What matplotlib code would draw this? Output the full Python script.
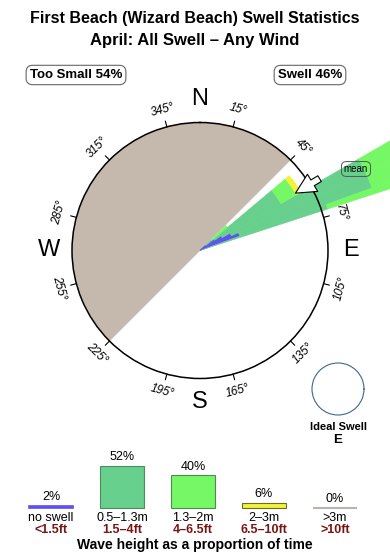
import matplotlib
matplotlib.use('Agg')
import matplotlib.pyplot as plt
import numpy as np

plt.rcParams['font.family'] = ['Liberation Sans', 'DejaVu Sans']

W, H = 390, 560

# swell rose: compass bins (degrees) and stacked lengths (1.0 = compass circle)
bin_start = [46, 50, 55, 60, 65, 70]
bin_end = [50, 55, 60, 65, 70, 72]
r_blue = [0.06, 0.14, 0.20, 0.27, 0.33, 0.0]
r_dkgreen = [0.06, 0.59, 0.53, 1.16, 1.10, 1.05]
r_ltgreen = [0.16, 0.14, 0.14, 0.80, 0.80, 1.00]
r_yellow = [0.0, 0.04, 0.04, 0.0, 0.0, 0.0]
mean_dir = 59

# legend bars
cats = ['no swell', '0.5\u20131.3m', '1.3\u20132m', '2\u20133m', '>3m']
feet = ['<1.5ft', '1.5\u20134ft', '4\u20136.5ft', '6.5\u201310ft', '>10ft']
pct = [2, 52, 40, 6, 0]

c_blue = '#5f4ff2'
c_dkg = '#66d08c'
c_ltg = '#76f766'
c_yel = '#f2f238'
c_gray = '#c4b9ac'
c_red = '#7a1414'

fig = plt.figure(figsize=(W/100, H/100), dpi=100)

def fx(x):
    return x / W

def fy(y):
    return 1 - y / H

fig.text(0.5, fy(18), 'First Beach (Wizard Beach) Swell Statistics', ha='center', va='center',
         fontsize=11.5, fontweight='bold')
fig.text(0.5, fy(40), 'April: All Swell \u2013 Any Wind', ha='center', va='center',
         fontsize=12, fontweight='bold')
box = dict(boxstyle='round,pad=0.28,rounding_size=0.5', fc='white', ec='#666666', lw=0.8)
fig.text(fx(76), fy(75), 'Too Small 54%', ha='center', va='center', fontsize=9.5,
         fontweight='bold', bbox=box)
fig.text(fx(310), fy(75), 'Swell 46%', ha='center', va='center', fontsize=9.5,
         fontweight='bold', bbox=box)

# compass rose
cx, cy, R = 200, 250.5, 128
ax = fig.add_axes([fx(cx - R), fy(cy + R), 2*R/W, 2*R/H], projection='polar')
ax.set_theta_zero_location('N')
ax.set_theta_direction(-1)
ax.set_ylim(0, 1)
ax.set_xticks([])
ax.set_yticks([])
ax.grid(False)
ax.spines['polar'].set_linewidth(1.1)
ax.spines['polar'].set_zorder(4)

# shadowed sector
ax.bar(np.deg2rad(315), 1, width=np.pi, color=c_gray, edgecolor=c_gray, lw=0.3, zorder=1)

th = np.deg2rad((np.array(bin_start) + np.array(bin_end)) / 2)
wd = np.deg2rad(np.array(bin_end) - np.array(bin_start))
bottom = np.zeros(len(th))
for vals, col in [(r_blue, c_blue), (r_dkgreen, c_dkg), (r_ltgreen, c_ltg), (r_yellow, c_yel)]:
    v = np.array(vals)
    keep = v > 0
    ax.bar(th[keep], v[keep], width=wd[keep], bottom=bottom[keep], color=col, edgecolor=col,
           lw=0.4, zorder=2, clip_on=False, align='center')
    bottom = bottom + v

# ticks and degree labels
for d in range(15, 360, 30):
    t = np.deg2rad(d)
    ax.plot([t, t], [1.0, 1.045], color='k', lw=0.8, clip_on=False, zorder=5)
    rot = 180 - d if 90 < d < 270 else -d
    ax.text(t, 1.14, f'{d}\u00b0', rotation=rot, ha='center', va='center', fontsize=8.5,
            style='italic', rotation_mode='anchor', zorder=5)

for lab, d in [('N', 0), ('E', 90), ('S', 180), ('W', 270)]:
    ax.text(np.deg2rad(d), 1.18, lab, ha='center', va='center', fontsize=17, zorder=5)

ax.annotate('', xy=(np.deg2rad(mean_dir), 0.87), xytext=(np.deg2rad(mean_dir), 1.09),
            arrowprops=dict(arrowstyle='simple,head_width=0.9,head_length=0.9,tail_width=0.3',
                            fc='white', ec='black', lw=0.8, mutation_scale=16,
                            shrinkA=0, shrinkB=0),
            annotation_clip=False, zorder=6)
fig.text(fx(356), fy(169), 'mean', ha='center', va='center', fontsize=7,
         bbox=dict(boxstyle='round,pad=0.25,rounding_size=0.5', fc='none', ec='#555555', lw=0.7))

# ideal swell circle
ix, iy, ir = 338, 389, 26
ax3 = fig.add_axes([fx(ix - ir), fy(iy + ir), 2*ir/W, 2*ir/H], projection='polar')
ax3.set_xticks([])
ax3.set_yticks([])
ax3.grid(False)
ax3.spines['polar'].set_color('#3d6690')
ax3.spines['polar'].set_linewidth(0.8)
fig.text(fx(ix), fy(427), 'Ideal Swell', ha='center', va='center', fontsize=8, fontweight='bold')
fig.text(fx(ix), fy(440), 'E', ha='center', va='center', fontsize=9.5, fontweight='bold')

# legend bars
base = 507.7
ax2 = fig.add_axes([0, fy(base), 1, 50/H])
ax2.axis('off')
ax2.set_xlim(-51/71, (W - 51)/71)
ax2.set_ylim(0, 61.9)
x = np.arange(len(pct))
ax2.bar(x, pct, width=0.62, color=[c_blue, c_dkg, c_ltg, c_yel, '#bdb3a8'],
        edgecolor=[c_blue, '#4f8a63', '#4f8a4f', '#6b6b2a', '#bdb3a8'], lw=[1.2, 0.8, 0.8, 0.8, 1.5],
        clip_on=False)
for i, v in enumerate(pct):
    ax2.text(i, v + 11, f'{v}%', ha='center', va='center', fontsize=9)
    ax2.text(i, -12.8, cats[i], ha='center', va='center', fontsize=9, clip_on=False)
    ax2.text(i, -27.6, feet[i], ha='center', va='center', fontsize=9, fontweight='bold',
             color=c_red, clip_on=False)
fig.text(0.5, fy(545), 'Wave height as a proportion of time', ha='center', va='center',
         fontsize=10, fontweight='bold')

fig.savefig('out.png', dpi=100)
